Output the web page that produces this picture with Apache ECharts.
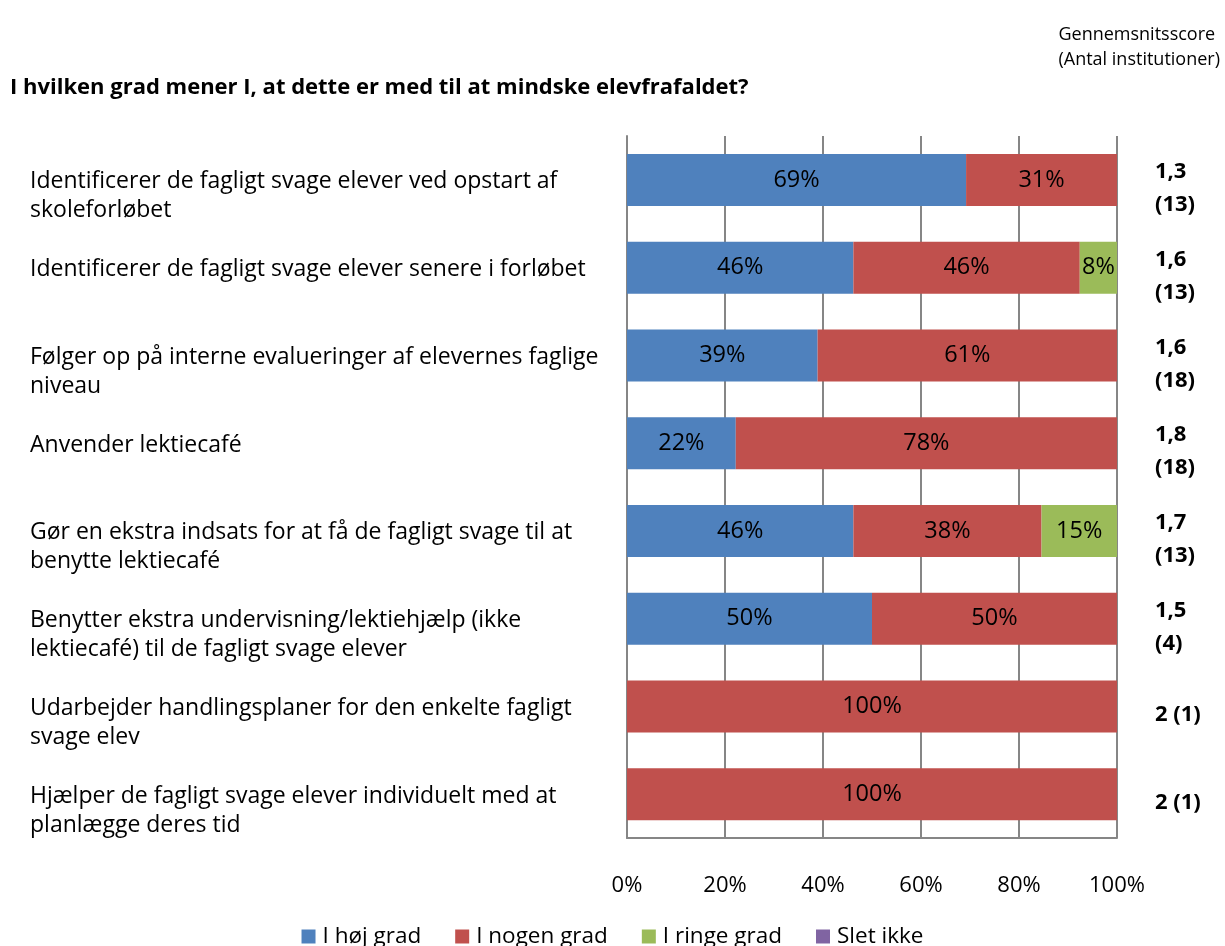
<!DOCTYPE html>
<html><head><meta charset="utf-8">
<script src="https://cdn.jsdelivr.net/npm/echarts@6/dist/echarts.min.js"></script>
<style>html,body{margin:0;padding:0;background:#fff}#c{width:1225px;height:946px}</style>
</head><body><div id="c"></div>
<script>
const categories = [
  "Identificerer de fagligt svage elever ved opstart af\nskoleforløbet",
  "Identificerer de fagligt svage elever senere i forløbet",
  "Følger op på interne evalueringer af elevernes faglige\nniveau",
  "Anvender lektiecafé",
  "Gør en ekstra indsats for at få de fagligt svage til at\nbenytte lektiecafé",
  "Benytter ekstra undervisning/lektiehjælp (ikke\nlektiecafé) til de fagligt svage elever",
  "Udarbejder handlingsplaner for den enkelte fagligt\nsvage elev",
  "Hjælper de fagligt svage elever individuelt med at\nplanlægge deres tid"
];
const scores = ["1,3\n(13)","1,6\n(13)","1,6\n(18)","1,8\n(18)","1,7\n(13)","1,5\n(4)","2 (1)","2 (1)"];
const seriesNames = ["I høj grad","I nogen grad","I ringe grad","Slet ikke"];
const hoejGrad   = [69.2, 46.2, 38.9, 22.2, 46.2, 50, 0, 0];
const nogenGrad  = [30.8, 46.2, 61.1, 77.8, 38.4, 50, 100, 100];
const ringeGrad  = [0, 7.7, 0, 0, 15.4, 0, 0, 0];
const sletIkke   = [0, 0, 0, 0, 0, 0, 0, 0];
const xTicks = [0, 20, 40, 60, 80, 100];
const colors = ["#4F81BD","#C0504D","#9BBB59","#8064A2"];
const FONT = "'Open Sans', sans-serif";

const chart = echarts.init(document.getElementById('c'), null, {renderer:'canvas'});
const mk = (name, data, i) => ({
  name, type:'bar', stack:'s', data, barWidth:52,
  itemStyle:{color:colors[i]},
  label:{show:true, position:'inside', color:'#000', fontSize:23.5, fontFamily:FONT,
    formatter: p => p.value > 0 ? Math.round(p.value) + '%' : ''}
});
chart.setOption({
  animation:false,
  textStyle:{fontFamily:FONT},
  title:[
    {text:"I hvilken grad mener I, at dette er med til at mindske elevfrafaldet?", left:10, top:77, padding:0,
     textStyle:{fontSize:22, fontWeight:'bold', color:'#000', fontFamily:FONT}},
    {text:"Gennemsnitsscore\n(Antal institutioner)", right:5, top:22, padding:0,
     textStyle:{fontSize:18, fontWeight:'normal', color:'#000', lineHeight:25, fontFamily:FONT, align:'right'}}
  ],
  legend:{top:925, left:'center', padding:0, itemWidth:14, itemHeight:14, itemGap:34, icon:'rect',
    data:seriesNames, textStyle:{fontSize:22.5, color:'#000', fontFamily:FONT, padding:[0,0,0,2]}},
  grid:{left:627, right:108, top:136, bottom:108, containLabel:false},
  xAxis:{type:'value', min:0, max:100, interval:20,
    axisLine:{show:true, lineStyle:{color:'#868686', width:2}},
    axisTick:{show:false},
    splitLine:{show:true, lineStyle:{color:'#868686', width:2}},
    axisLabel:{formatter: v => xTicks.includes(v) ? v + '%' : '', fontSize:22, color:'#000', margin:37, fontFamily:FONT}},
  yAxis:[
    {type:'category', inverse:true, data:categories,
     axisLine:{show:true, lineStyle:{color:'#868686', width:2}},
     axisTick:{show:false},
     axisLabel:{interval:0, showMinLabel:true, showMaxLabel:true, hideOverlap:false,
       align:'left', margin:597, fontSize:23, color:'#000', fontFamily:FONT,
       formatter: v => '{s| }\n' + v.split('\n').map(l => '{t|' + l + '}').join('\n') + (v.includes('\n') ? '' : '\n{t| }'),
       rich:{ s:{lineHeight:33, fontSize:10, fontFamily:FONT}, t:{lineHeight:29, fontSize:23, color:'#000', fontFamily:FONT} }}},
    {type:'category', inverse:true, data:scores, position:'right',
     axisLine:{show:false}, axisTick:{show:false},
     axisLabel:{interval:0, showMinLabel:true, showMaxLabel:true, hideOverlap:false,
       align:'left', margin:38, fontFamily:FONT,
       formatter: v => '{s| }\n' + v.split('\n').map(l => '{b|' + l + '}').join('\n'),
       rich:{ s:{lineHeight:17, fontSize:10, fontFamily:FONT}, b:{lineHeight:33, fontSize:22, fontWeight:'bold', color:'#000', fontFamily:FONT} }}}
  ],
  series:[mk(seriesNames[0], hoejGrad,0), mk(seriesNames[1], nogenGrad,1), mk(seriesNames[2], ringeGrad,2), mk(seriesNames[3], sletIkke,3)]
});
</script></body></html>
